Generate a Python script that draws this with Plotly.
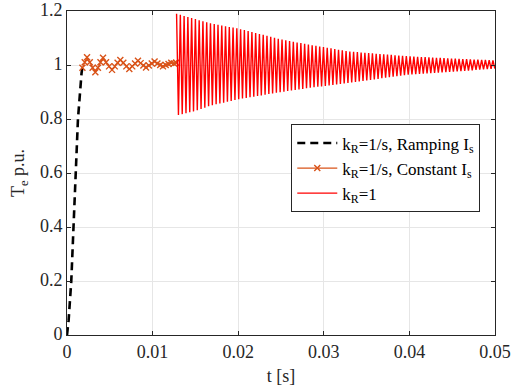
import numpy as np
import plotly.graph_objects as go

# Ramping Is (black dashed)
t_ramp = [0.0, 0.00019, 0.0005, 0.00077, 0.0010, 0.00128, 0.0017, 0.00179]
v_ramp = [0.0, 0.055, 0.20, 0.40, 0.60, 0.80, 0.97, 0.99]

# Constant Is (orange with x markers)
t_const = [0.00180, 0.00207, 0.00234, 0.00266, 0.00299, 0.00331, 0.00361, 0.00391,
           0.00421, 0.00456, 0.00491, 0.00526, 0.00558, 0.00591, 0.00623, 0.00658,
           0.00693, 0.00728, 0.00762, 0.00795, 0.00829, 0.00860, 0.00892, 0.00923,
           0.00956, 0.00990, 0.01023, 0.01056, 0.01089, 0.01121, 0.01153, 0.01186,
           0.01218, 0.01250, 0.01275]
v_const = [0.99, 1.01, 1.029, 1.01, 0.99, 0.973, 0.99, 1.01,
           1.027, 1.01, 0.995, 0.982, 0.995, 1.008, 1.019, 1.008,
           0.995, 0.985, 0.995, 1.006, 1.016, 1.007, 0.998, 0.991,
           0.998, 1.006, 1.013, 1.006, 1.0, 0.995, 1.0, 1.004,
           1.008, 1.006, 1.008]

# kR=1 (red oscillation) envelope
t_env = [0.0128, 0.015, 0.0168, 0.02, 0.025, 0.0285, 0.033, 0.04, 0.045, 0.05]
upper_env = [1.19, 1.17, 1.154, 1.135, 1.095, 1.074, 1.050, 1.032, 1.024, 1.017]
lower_env = [0.813, 0.83, 0.85, 0.873, 0.90, 0.916, 0.934, 0.965, 0.975, 0.987]
half_period = 0.00022

x_ticks = [0, 0.01, 0.02, 0.03, 0.04, 0.05]
x_tick_labels = ["0", "0.01", "0.02", "0.03", "0.04", "0.05"]
y_ticks = [0, 0.2, 0.4, 0.6, 0.8, 1.0, 1.2]
y_tick_labels = ["0", "0.2", "0.4", "0.6", "0.8", "1", "1.2"]

t_red = np.arange(t_env[0], t_env[-1] + 1e-9, half_period)
up = np.interp(t_red, t_env, upper_env)
lo = np.interp(t_red, t_env, lower_env)
v_red = np.where(np.arange(len(t_red)) % 2 == 0, up, lo)

FONT = "Liberation Serif, Times New Roman, DejaVu Serif, serif"
TXT = "#262626"
fig = go.Figure()
fig.add_trace(go.Scatter(x=t_ramp, y=v_ramp, mode="lines",
                         line=dict(color="black", width=2.6, dash="8px,5px"),
                         name="k<sub>R</sub>=1/s, Ramping I<sub>s</sub>"))
fig.add_trace(go.Scatter(x=t_const, y=v_const, mode="lines+markers",
                         line=dict(color="#D95319", width=1.2),
                         marker=dict(symbol="x-thin", size=6, color="#D95319",
                                     line=dict(color="#D95319", width=1.4)),
                         name="k<sub>R</sub>=1/s, Constant I<sub>s</sub>"))
fig.add_trace(go.Scatter(x=t_red, y=v_red, mode="lines",
                         line=dict(color="#FF0000", width=1.4),
                         name="k<sub>R</sub>=1"))

def axis(**kw):
    d = dict(showline=True, linecolor=TXT, linewidth=1, mirror="ticks",
             ticks="inside", ticklen=4, tickcolor=TXT,
             showgrid=True, gridcolor="#E6E6E6", gridwidth=1, zeroline=False,
             automargin=False, ticklabeloverflow="allow",
             tickfont=dict(family=FONT, size=18, color=TXT))
    d.update(kw)
    return d

fig.update_layout(
    width=512, height=391,
    margin=dict(l=67, r=17, t=11, b=56),
    plot_bgcolor="white", paper_bgcolor="white",
    font=dict(family=FONT, size=18, color=TXT),
    xaxis=axis(range=[0, 0.05], tickvals=x_ticks, ticktext=x_tick_labels,
               title=dict(text="t [s]", font=dict(family=FONT, size=18, color=TXT), standoff=8)),
    yaxis=axis(range=[0, 1.2001], tickvals=y_ticks, ticktext=y_tick_labels,
               ticklabelshift=-1,
               title=dict(text="T<sub>e</sub> p.u.", font=dict(family=FONT, size=18, color=TXT), standoff=10)),
    legend=dict(x=0.524, y=0.65, xanchor="left", yanchor="top",
                bgcolor="white", bordercolor=TXT, borderwidth=1,
                font=dict(family=FONT, size=17, color="black"),
                itemwidth=40, tracegroupgap=0),
    showlegend=True,
)
fig.write_html("out.html", config={"displayModeBar": False},
               post_script="document.body.style.margin='0';document.body.style.overflow='hidden';")
